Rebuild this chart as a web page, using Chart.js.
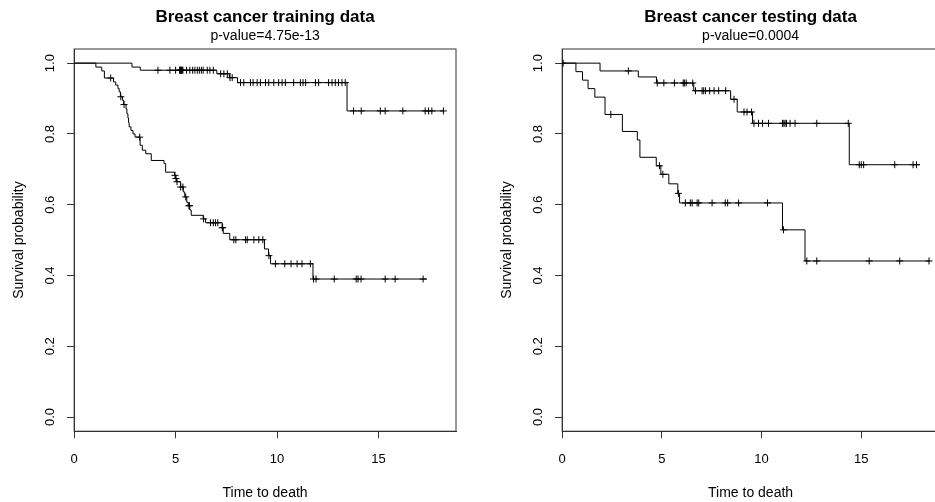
<!DOCTYPE html>
<html>
<head>
<meta charset="utf-8">
<script src="https://cdn.jsdelivr.net/npm/chart.js@4.4.1/dist/chart.umd.min.js"></script>
<style>
    html, body { margin: 0; padding: 0; background: #fff; overflow: hidden; }
    body { width: 935px; height: 502px; position: relative; }
    .panel { position: absolute; top: 0; height: 502px; }
    #panel-train { left: 0; width: 467px; }
    #panel-test { left: 488px; width: 462px; }
</style>
</head>
<body>
<div class="panel" id="panel-train"><canvas id="chart-train"></canvas></div>
<div class="panel" id="panel-test"><canvas id="chart-test"></canvas></div>
<script>
/* Kaplan-Meier curves */

// training data, low risk group
const trainLowTimes = [0, 2.85, 3.26, 7.03, 7.65, 8.05, 13.45, 18.2];
const trainLowSurv = [1, 0.989, 0.980, 0.970, 0.959, 0.945, 0.865, 0.865];
const trainLowCensor = [4.13, 4.72, 5.0, 5.2, 5.22, 5.25, 5.27, 5.3, 5.32, 5.36, 5.54, 5.7, 5.84, 5.95,
    6.07, 6.17, 6.27, 6.36, 6.56, 6.69, 6.86, 7.22, 7.38, 7.55, 7.68, 7.79, 8.2, 8.36, 8.69, 8.82,
    9.02, 9.18, 9.43, 9.59, 9.84, 10.08, 10.25, 10.41, 10.82, 11.15, 11.28, 11.41, 11.89, 12.05,
    12.54, 12.71, 12.87, 13.03, 13.2, 13.36, 13.77, 14.15, 15.09, 15.33, 16.2, 17.3, 17.47, 17.63, 18.2];

// training data, high risk group
const trainHighTimes = [0, 1.07, 1.36, 1.49, 1.94, 2.05, 2.16, 2.22, 2.28, 2.38, 2.44, 2.56, 2.60, 2.65,
    2.68, 2.71, 2.80, 2.90, 3.00, 3.25, 3.36, 3.53, 3.80, 4.43, 4.51, 4.95, 5.00, 5.05, 5.25, 5.38,
    5.45, 5.55, 5.62, 5.70, 5.77, 6.36, 6.48, 7.30, 7.35, 7.67, 9.38, 9.58, 9.68, 11.77, 17.38];
const trainHighSurv = [1, 0.989, 0.978, 0.958, 0.947, 0.938, 0.928, 0.919, 0.905, 0.895, 0.883, 0.870,
    0.857, 0.845, 0.832, 0.820, 0.810, 0.800, 0.791, 0.768, 0.754, 0.744, 0.725, 0.716, 0.692, 0.683,
    0.674, 0.665, 0.650, 0.636, 0.622, 0.607, 0.597, 0.585, 0.570, 0.560, 0.549, 0.535, 0.519, 0.501,
    0.475, 0.456, 0.433, 0.390, 0.390];
const trainHighCensor = [1.8, 2.3, 2.46, 3.23, 4.97, 5.02, 5.07, 5.25, 5.36, 5.5, 5.66, 5.68, 6.38, 6.72,
    6.86, 6.97, 7.08, 7.3, 7.32, 7.87, 7.97, 8.45, 8.53, 8.86, 9.1, 9.3, 9.6, 9.92, 10.38, 10.69,
    10.99, 11.23, 11.64, 11.8, 11.92, 12.82, 13.9, 13.99, 14.14, 15.33, 15.82, 17.2];

// testing data, low risk group
const testLowTimes = [0, 1.9, 3.82, 4.73, 6.6, 8.45, 8.78, 9.55, 14.4, 17.93];
const testLowSurv = [1, 0.978, 0.961, 0.944, 0.922, 0.898, 0.862, 0.830, 0.713, 0.713];
const testLowCensor = [0.05, 3.32, 4.77, 5.1, 5.63, 6.07, 6.13, 6.22, 6.55, 6.69, 7.02, 7.1, 7.19, 7.4,
    7.62, 7.85, 8.2, 8.62, 9.12, 9.27, 9.5, 9.62, 9.85, 10.05, 10.35, 11.05, 11.12, 11.18, 11.25,
    11.43, 11.68, 12.77, 14.35, 14.9, 15.0, 15.12, 16.68, 17.6, 17.77];

// testing data, high risk group
const testHighTimes = [0, 0.69, 1.02, 1.30, 1.64, 2.15, 3.02, 3.77, 3.90, 4.72, 4.95, 5.35, 5.80, 5.89,
    11.05, 12.18, 18.45];
const testHighSurv = [1, 0.976, 0.952, 0.928, 0.904, 0.855, 0.807, 0.783, 0.734, 0.710, 0.686, 0.659,
    0.632, 0.605, 0.529, 0.441, 0.441];
const testHighCensor = [2.44, 4.88, 5.05, 5.83, 6.18, 6.43, 6.52, 6.77, 6.85, 7.52, 8.18, 8.3, 8.85,
    10.3, 11.1, 12.27, 12.77, 15.4, 16.93, 18.4];

const xTickValues = [0, 5, 10, 15];
const yTickValues = [0, 0.2, 0.4, 0.6, 0.8, 1.0];

const FONT = 'Liberation Sans, Arial, sans-serif';
const INK = '#000';
const AXIS = '#333';

// value of the step function at time t
function survAt(times, surv, t) {
    let s = surv[0];
    for (let i = 0; i < times.length; i++) {
        if (times[i] <= t) s = surv[i];
    }
    return s;
}

function stepDataset(times, surv) {
    return {
        type: 'line',
        data: times.map((t, i) => ({ x: t, y: surv[i] })),
        borderColor: INK,
        borderWidth: 1,
        pointRadius: 0,
        stepped: 'before',
        fill: false,
    };
}

function censorDataset(times, surv, censor) {
    return {
        type: 'scatter',
        data: censor.map(t => ({ x: t, y: survAt(times, surv, t) })),
        pointStyle: 'cross',
        pointRadius: 3.5,
        borderColor: INK,
        borderWidth: 1,
        backgroundColor: INK,
    };
}

const boxPlugin = {
    id: 'plotBox',
    beforeDatasetsDraw(chart) {
        const { ctx, chartArea: a } = chart;
        ctx.save();
        ctx.strokeStyle = AXIS;
        ctx.lineWidth = 1;
        ctx.strokeRect(a.left, a.top, a.right - a.left, a.bottom - a.top);
        ctx.restore();
    },
};

function renderKM(canvasId, title, subtitle, xMax, groups) {
    const datasets = [];
    groups.forEach(g => {
        datasets.push(stepDataset(g.times, g.surv));
        datasets.push(censorDataset(g.times, g.surv, g.censor));
    });

    return new Chart(document.getElementById(canvasId), {
        data: { datasets },
        plugins: [boxPlugin],
        options: {
            animation: false,
            responsive: true,
            maintainAspectRatio: false,
            layout: { padding: { left: 0, right: 11, top: 0, bottom: 0 } },
            plugins: {
                legend: { display: false },
                tooltip: { enabled: false },
                title: {
                    display: true,
                    text: title,
                    fullSize: false,
                    color: INK,
                    font: { family: FONT, size: 17, weight: 'bold' },
                    padding: { top: 6.8, bottom: 0 },
                },
                subtitle: {
                    display: true,
                    text: subtitle,
                    fullSize: false,
                    color: INK,
                    font: { family: FONT, size: 14 },
                    padding: { top: 0.4, bottom: 4.6 },
                },
            },
            scales: {
                x: {
                    type: 'linear',
                    min: 0,
                    max: xMax,
                    afterBuildTicks: axis => { axis.ticks = xTickValues.map(v => ({ value: v })); },
                    ticks: { color: INK, font: { family: FONT, size: 13 }, padding: 13, maxRotation: 0 },
                    grid: { drawOnChartArea: false, drawTicks: true, tickLength: 7, color: AXIS },
                    border: { display: true, color: AXIS },
                    title: {
                        display: true,
                        text: 'Time to death',
                        color: INK,
                        font: { family: FONT, size: 14 },
                        padding: { top: 5.4, bottom: 0 },
                    },
                },
                y: {
                    type: 'linear',
                    min: -0.04,
                    max: 1.04,
                    afterBuildTicks: axis => { axis.ticks = yTickValues.map(v => ({ value: v })); },
                    ticks: {
                        color: INK,
                        font: { family: FONT, size: 13 },
                        padding: 7.25,
                        minRotation: 90,
                        maxRotation: 90,
                        crossAlign: 'center',
                        callback: v => v.toFixed(1),
                    },
                    grid: { drawOnChartArea: false, drawTicks: true, tickLength: 7, color: AXIS },
                    border: { display: true, color: AXIS },
                    title: {
                        display: true,
                        text: 'Survival probability',
                        color: INK,
                        font: { family: FONT, size: 14 },
                        padding: { top: 10.6, bottom: 9.65 },
                    },
                },
            },
        },
    });
}

renderKM('chart-train', 'Breast cancer training data', 'p-value=4.75e-13', 18.82, [
    { times: trainLowTimes, surv: trainLowSurv, censor: trainLowCensor },
    { times: trainHighTimes, surv: trainHighSurv, censor: trainHighCensor },
]);

renderKM('chart-test', 'Breast cancer testing data', 'p-value=0.0004', 18.9, [
    { times: testLowTimes, surv: testLowSurv, censor: testLowCensor },
    { times: testHighTimes, surv: testHighSurv, censor: testHighCensor },
]);
</script>
</body>
</html>
